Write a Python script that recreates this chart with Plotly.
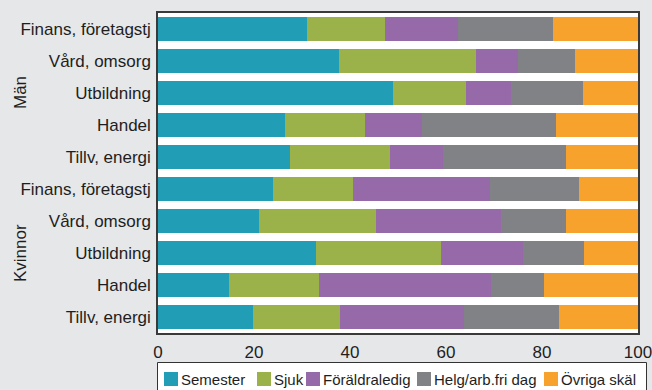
import plotly.graph_objects as go

# ---------------- data ----------------
categories = ["Finans, företagstj", "Vård, omsorg", "Utbildning", "Handel", "Tillv, energi",
              "Finans, företagstj", "Vård, omsorg", "Utbildning", "Handel", "Tillv, energi"]
groups = ["Män", "Kvinnor"]
group_sizes = [5, 5]

series_names = ["Semester", "Sjuk", "Föräldraledig", "Helg/arb.fri dag", "Övriga skäl"]
semester      = [31.1, 37.7, 49.0, 26.4, 27.5, 23.9, 21.0, 32.9, 14.7, 19.7]
sjuk          = [16.2, 28.5, 15.1, 16.7, 20.8, 16.7, 24.4, 26.1, 18.8, 18.2]
foraldraledig = [15.2,  8.8,  9.5, 11.8, 11.1, 28.5, 26.1, 17.1, 35.9, 25.8]
helg          = [19.7, 11.9, 15.0, 28.0, 25.5, 18.7, 13.6, 12.7, 11.1, 19.9]
ovriga        = [17.8, 13.1, 11.4, 17.1, 15.1, 12.2, 14.9, 11.2, 19.5, 16.4]
series_values = [semester, sjuk, foraldraledig, helg, ovriga]

x_ticks = [0, 20, 40, 60, 80, 100]

# ---------------- style ----------------
colors = ["#219DB6", "#9BB24A", "#966AA8", "#818285", "#F7A22D"]
BG = "#E6E7E8"
FONT = "Liberation Sans, Arial, sans-serif"
TXT = "#1E1E1E"

W, H = 652, 390
L, R, T, B = 158, 14, 13, 57
PW, PH = W - L - R, H - T - B


def xp(px):
    return (px - L) / PW


def yp(py):
    return 1 - (py - T) / PH


rows = list(range(len(categories)))

fig = go.Figure()
for name, vals, col in zip(series_names, series_values, colors):
    fig.add_trace(go.Bar(
        y=rows, x=vals, name=name, orientation="h",
        marker=dict(color=col, line=dict(width=0)),
        showlegend=False,
        hovertemplate=name + ": %{x}<extra></extra>",
    ))

# group labels (rotated)
annotations = []
start = 0
for g, n in zip(groups, group_sizes):
    center = start + (n - 1) / 2
    annotations.append(dict(
        text=g, x=xp(20), xref="paper", y=center, yref="y",
        textangle=-90, showarrow=False, xanchor="center", yanchor="middle",
        font=dict(family=FONT, size=17, color=TXT),
    ))
    start += n

# custom compact legend
shapes = []
legend_x = [164, 257, 306, 417, 544]
sq = 14
ly = 379
shapes.append(dict(type="rect", xref="paper", yref="paper",
                   x0=xp(157.5), x1=xp(646.5), y0=yp(395), y1=yp(362.5),
                   line=dict(color="#333333", width=1), fillcolor="white", layer="below"))
for name, col, lx in zip(series_names, colors, legend_x):
    shapes.append(dict(type="rect", xref="paper", yref="paper",
                       x0=xp(lx), x1=xp(lx + sq), y0=yp(ly + sq / 2), y1=yp(ly - sq / 2),
                       line=dict(width=0), fillcolor=col))
    annotations.append(dict(
        text=name, x=xp(lx + sq + 1), xref="paper", y=yp(ly), yref="paper",
        showarrow=False, xanchor="left", yanchor="middle",
        font=dict(family=FONT, size=15, color=TXT),
    ))

fig.update_layout(
    width=W, height=H,
    margin=dict(l=L, r=R, t=T, b=B, pad=0, autoexpand=False),
    paper_bgcolor=BG, plot_bgcolor="white",
    barmode="stack", bargap=0.24,
    font=dict(family=FONT, size=17, color=TXT),
    annotations=annotations,
    shapes=shapes,
    showlegend=False,
)
fig.update_xaxes(
    range=[0, 100], tickvals=x_ticks, ticks="", showgrid=False, zeroline=False,
    showline=True, linecolor="#3A3A3A", linewidth=1.5, mirror=True,
    tickfont=dict(family=FONT, size=17, color=TXT), ticklabelstandoff=3,
    ticklabeloverflow="allow", automargin=False,
)
fig.update_yaxes(
    range=[len(categories) - 0.5, -0.5], tickvals=rows, ticktext=categories,
    ticks="", showgrid=False, zeroline=False,
    showline=True, linecolor="#3A3A3A", linewidth=1.5, mirror=True,
    tickfont=dict(family=FONT, size=17, color=TXT), ticklabelstandoff=2,
    automargin=False,
)

fig.write_html("out.html")
